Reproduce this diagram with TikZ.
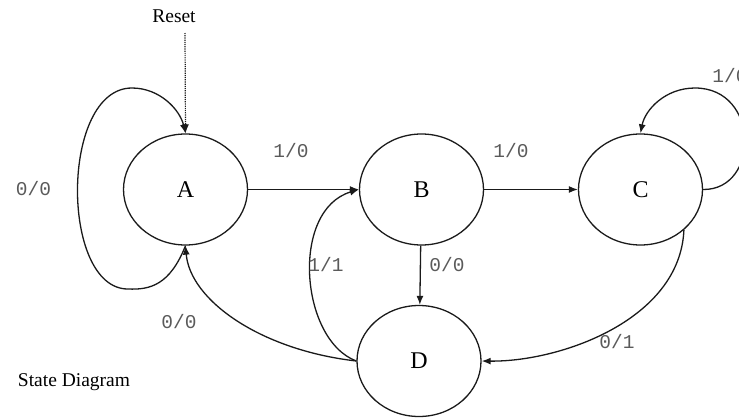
\documentclass[tikz,border=0pt]{standalone}
\usepackage{fontspec}
\setmainfont{Liberation Serif}
\setmonofont{Liberation Mono}
\usepackage{tikz}
\usetikzlibrary{arrows.meta,positioning,calc,shapes.geometric}
\definecolor{LabelGray}{HTML}{5A5A5A}
\definecolor{EdgeBlack}{HTML}{1A1A1A}

\begin{document}
\begin{tikzpicture}[x=1pt,y=-1pt,>={Latex[length=9pt,width=7pt]},
  state/.style={draw=EdgeBlack,line width=1.3pt,ellipse,minimum width=124pt,
    minimum height=111pt,inner sep=0pt,font=\fontsize{24}{27}\selectfont},
  trans/.style={->,line width=1.3pt,EdgeBlack},
  lbl/.style={text=LabelGray,font=\ttfamily\fontsize{19.5}{22}\selectfont,inner sep=1pt},
  txt/.style={font=\fontsize{19.5}{22}\selectfont,inner sep=1pt}]
  \useasboundingbox (0,0) rectangle (739,418);
  \clip (0,0) rectangle (739,418);
  % states
  \node[state] (A) at (185.5,189.5) {A};
  \node[state] (B) at (421.5,189.5) {B};
  \node[state] (C) at (640.5,189.5) {C};
  \node[state] (D) at (419,361) {D};
  % reset
  \node[txt] (reset) at (174,16) {Reset};
  \coordinate (rs) at (185,33);
  \draw[->,EdgeBlack,densely dotted,line width=1.2pt] (rs) -- (A.north);
  % self loops
  \draw[trans] (A.south) .. controls (170,285) and (150,290) .. (128,289)
    .. controls (60,289) and (60,88) .. (132,88)
    .. controls (160,88) and (180,110) .. (A.north);
  \draw[trans] (C.east) .. controls (760,190) and (760,88) .. (695,88)
    .. controls (665,88) and (645,110) .. (C.north);
  % transitions
  \draw[trans] (A) -- (B);
  \draw[trans] (B) -- (C);
  \draw[trans] (B) -- (D);
  \draw[trans] (C.-43) .. controls (680,320) and (560,362) .. (D.east);
  \draw[trans] (D.west) .. controls (260,350) and (190,300) .. (A.south);
  \draw[trans] (D.west) .. controls (300,340) and (290,210) .. (B.west);
  % labels
  \node[lbl] (l00a) at (33.5,189) {0/0};
  \node[lbl] (l10a) at (291,151) {1/0};
  \node[lbl] (l10b) at (511,151) {1/0};
  \node[lbl] (l10c) at (730,76) {1/0};
  \node[lbl] (l00b) at (447,265) {0/0};
  \node[lbl] (l11) at (326,265) {1/1};
  \node[lbl] (l00c) at (179,322) {0/0};
  \node[lbl] (l01) at (617,342) {0/1};
  \node[txt] (title) at (74,382) {State Diagram};
\end{tikzpicture}
\end{document}
